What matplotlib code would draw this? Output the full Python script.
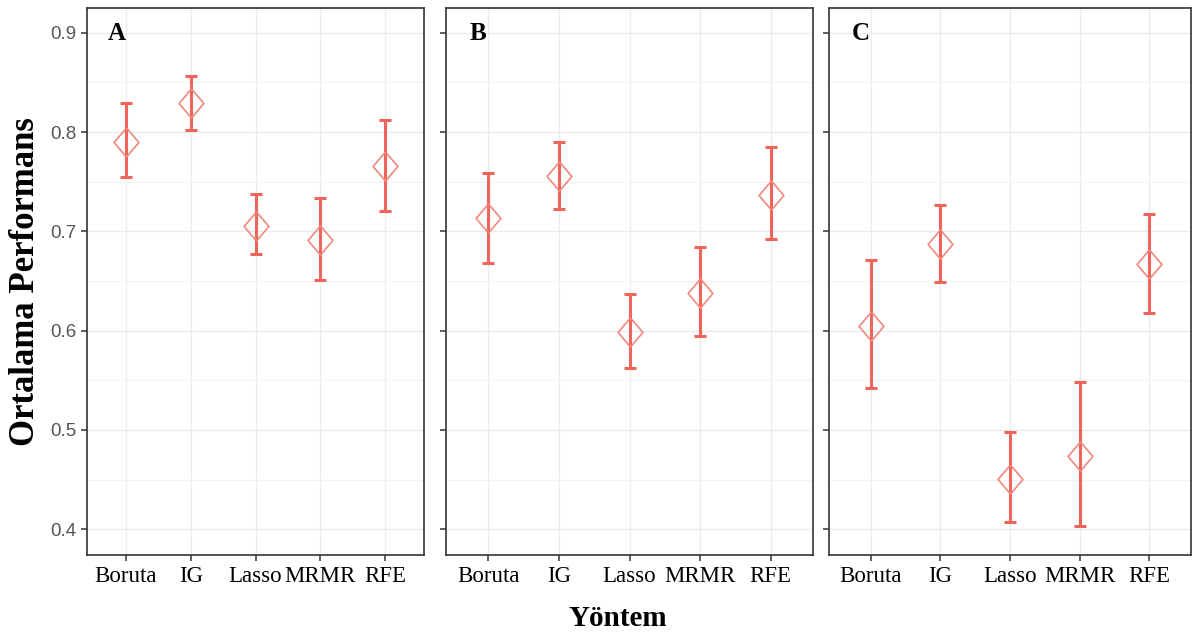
import numpy as np
import matplotlib.pyplot as plt

methods = ["Boruta", "IG", "Lasso", "MRMR", "RFE"]
panels = ["A", "B", "C"]

mean_a = [0.790, 0.829, 0.705, 0.691, 0.766]
low_a = [0.755, 0.802, 0.677, 0.651, 0.721]
high_a = [0.829, 0.857, 0.738, 0.734, 0.812]

mean_b = [0.713, 0.756, 0.599, 0.638, 0.737]
low_b = [0.668, 0.723, 0.562, 0.595, 0.692]
high_b = [0.759, 0.790, 0.637, 0.684, 0.785]

mean_c = [0.605, 0.687, 0.451, 0.474, 0.667]
low_c = [0.542, 0.649, 0.407, 0.403, 0.618]
high_c = [0.671, 0.727, 0.498, 0.548, 0.717]

yticks = [0.4, 0.5, 0.6, 0.7, 0.8, 0.9]

line_col = "#F0655B"
marker_col = "#F3877D"
# slightly tall diamond, like the stretched ggplot shape
diamond = [(0, 1), (0.85, 0), (0, -1), (-0.85, 0), (0, 1)]

fig = plt.figure(figsize=(11.99, 6.35), dpi=100)
bottom = 1 - 555 / 635
height = 547 / 635
boxes = [(87, 424), (446, 813), (829, 1191)]
data = [(mean_a, low_a, high_a), (mean_b, low_b, high_b), (mean_c, low_c, high_c)]

x = np.arange(1, len(methods) + 1)
for i, ((l, r), (m, lo, hi)) in enumerate(zip(boxes, data)):
    ax = fig.add_axes([l / 1199, bottom, (r - l) / 1199, height])
    m = np.array(m)
    err = [m - np.array(lo), np.array(hi) - m]
    ax.errorbar(x, m, yerr=err, fmt="none", ecolor=line_col, elinewidth=2.2,
                capsize=4.5, capthick=2.2, zorder=3)
    ax.plot(x, m, linestyle="none", marker=diamond, markersize=21,
            markerfacecolor="none", markeredgecolor=marker_col,
            markeredgewidth=1.2, zorder=4)
    ax.set_xlim(0.4, 5.6)
    ax.set_ylim(0.374, 0.925)
    ax.set_yticks(yticks)
    ax.set_yticks(np.arange(0.45, 0.9, 0.1), minor=True)
    ax.set_xticks(x)
    ax.set_xticklabels(methods, fontfamily="Liberation Serif", fontsize=16.5,
                       color="black")
    ax.grid(which="major", color="#EBEBEB", linewidth=1.0, zorder=0)
    ax.grid(which="minor", axis="y", color="#F2F2F2", linewidth=0.8, zorder=0)
    ax.tick_params(axis="both", which="major", length=4, width=1.1,
                   color="#333333")
    ax.tick_params(axis="y", which="minor", length=0)
    ax.tick_params(axis="y", labelsize=13.5, labelcolor="#555555")
    ax.tick_params(axis="x", pad=4)
    for lab in ax.get_yticklabels():
        lab.set_fontfamily("Liberation Sans")
    if i > 0:
        ax.set_yticklabels([])
    for s in ax.spines.values():
        s.set_color("#333333")
        s.set_linewidth(1.2)
    ax.text(0.088, 0.954, panels[i], transform=ax.transAxes, fontsize=18,
            fontweight="bold", fontfamily="Liberation Serif", va="center",
            ha="center")

fig.text(0.021, bottom + height / 2, "Ortalama Performans", rotation=90,
         fontsize=25, fontweight="bold", fontfamily="Liberation Serif",
         ha="center", va="center")
fig.text(618 / 1199, 1 - 618 / 635, "Yöntem", fontsize=21, fontweight="bold",
         fontfamily="Liberation Serif", ha="center", va="center")

fig.savefig("out.png", dpi=100)
